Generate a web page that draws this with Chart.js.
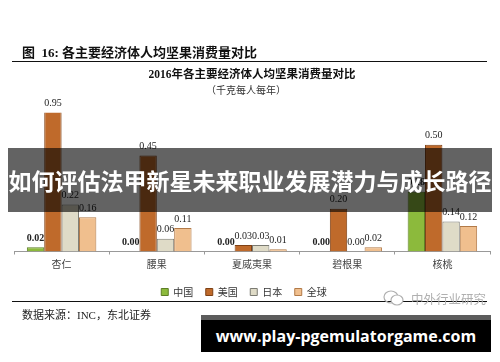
<!DOCTYPE html>
<html>
<head>
<meta charset="utf-8">
<script src="https://cdn.jsdelivr.net/npm/chart.js@4/dist/chart.umd.min.js"></script>
<style>
  body { margin: 0; width: 500px; height: 362px; position: relative; overflow: hidden; background: #fff; }
  #chart { position: absolute; left: 0; top: 0; }
  .abs { position: absolute; white-space: nowrap; }
  #figTitle { left: 22px; top: 42px; font: bold 13px "Liberation Serif", "Noto Sans CJK SC"; color: #111; }
  .rule { position: absolute; left: 12px; width: 475px; height: 0; border-top: 1.5px solid #111; }
  #source { left: 22px; top: 306px; font: 11px "Liberation Serif", "Noto Sans CJK SC"; color: #222; }
  #wechat { left: 383px; top: 289px; font: 12.5px "Noto Sans CJK SC"; color: #b0b0b0; }
  #banner { left: 8px; top: 148px; width: 484px; height: 64px; background: rgba(0,0,0,0.61);
            color: #fff; font: bold 23px "Noto Sans CJK SC"; text-align: center; line-height: 64px; }
  #site { left: 201px; top: 315px; width: 290px; height: 32px; border-top: 5px solid #5c5c5c; background: #000;
          color: #fff; font: bold 16px "Open Sans"; text-align: center; line-height: 32px; }
</style>
</head>
<body>
<canvas id="chart" width="500" height="362"></canvas>
<div class="abs" id="figTitle">图&nbsp;&nbsp;16:&nbsp;各主要经济体人均坚果消费量对比</div>
<div class="rule" style="top:61px"></div>
<div class="rule" style="top:301px"></div>
<div class="abs" id="source">数据来源：INC，东北证券</div>
<div class="abs" id="wechat"><svg width="22" height="16" style="vertical-align:-2px;margin-right:6px" viewBox="0 0 22 16"><ellipse cx="8" cy="7" rx="7" ry="6" fill="none" stroke="#b0b0b0" stroke-width="1.2"/><ellipse cx="14" cy="10" rx="6" ry="5" fill="#fff" stroke="#b0b0b0" stroke-width="1.2"/></svg>中外行业研究</div>
<div class="abs" id="banner">如何评估法甲新星未来职业发展潜力与成长路径</div>
<div class="abs" id="site">www.play-pgemulatorgame.com</div>
<script>
const categories = ["杏仁", "腰果", "夏威夷果", "碧根果", "核桃"];
const seriesNames = ["中国", "美国", "日本", "全球"];
const chinaValues = [0.02, 0.00, 0.00, 0.00, 0.28];
const usValues = [0.95, 0.45, 0.03, 0.20, 0.50];
const japanValues = [0.22, 0.06, 0.03, 0.00, 0.14];
const globalValues = [0.16, 0.11, 0.01, 0.02, 0.12];
const yMax = 0.65;

const serif = "'Liberation Serif', 'Noto Sans CJK SC'";

// value labels above each bar; bars taller than the axis get the label at the clip line
const valueLabels = {
  id: "valueLabels",
  afterDatasetsDraw(chart) {
    const ctx = chart.ctx;
    const top = chart.chartArea.top;
    ctx.save();
    ctx.textAlign = "center";
    ctx.textBaseline = "middle";
    ctx.fillStyle = "#222";
    chart.data.datasets.forEach((ds, i) => {
      ctx.font = (i === 0 ? "bold " : "") + "10px " + serif;
      chart.getDatasetMeta(i).data.forEach((bar, j) => {
        const y = Math.max(bar.y, top);
        ctx.fillText(ds.data[j].toFixed(2), bar.x, y - 9);
      });
    });
    ctx.restore();
  },
};

// nudge legend and unit line left, as in the source figure
const nudge = {
  id: "nudge",
  afterLayout(chart) {
    chart.legend.left -= 8;
    chart.legend.right -= 8;
    chart.boxes.forEach((b) => {
      if (b.options && b.options.text === "（千克每人每年）") {
        b.left -= 6;
        b.right -= 6;
      }
    });
  },
};

new Chart(document.getElementById("chart"), {
  type: "bar",
  data: {
    labels: categories,
    datasets: [
      { label: seriesNames[0], data: chinaValues, backgroundColor: "#8cba3c", borderColor: "#5d7e26" },
      { label: seriesNames[1], data: usValues, backgroundColor: "#bf6a2b", borderColor: "#7e4015" },
      { label: seriesNames[2], data: japanValues, backgroundColor: "#dfdbc7", borderColor: "#7a7a72" },
      { label: seriesNames[3], data: globalValues, backgroundColor: "#f0bf8e", borderColor: "#b27a48" },
    ],
  },
  options: {
    responsive: false,
    animation: false,
    events: [],
    datasets: {
      bar: { borderWidth: 1, categoryPercentage: 0.73, barPercentage: 1.0 },
    },
    layout: { padding: { left: 14, right: 10, top: 0, bottom: 55 } },
    scales: {
      x: {
        grid: { offset: true, drawOnChartArea: false, tickLength: 3, color: "#999" },
        border: { color: "#999" },
        ticks: { padding: 4, color: "#444", font: { size: 10, family: "'Noto Sans CJK SC'" } },
      },
      y: { display: false, min: 0, max: yMax },
    },
    plugins: {
      title: {
        display: true,
        text: "2016年各主要经济体人均坚果消费量对比",
        color: "#111",
        font: { size: 11.5, weight: "bold", family: serif },
        padding: { top: 68.1, bottom: 2 },
      },
      subtitle: {
        display: true,
        text: "（千克每人每年）",
        color: "#333",
        font: { size: 10, family: serif },
        padding: { top: 1.1, bottom: 15.7 },
      },
      legend: {
        position: "bottom",
        labels: {
          boxWidth: 7,
          boxHeight: 7,
          padding: 12.5,
          color: "#333",
          font: { size: 10, family: "'Noto Sans CJK SC'" },
        },
      },
      tooltip: { enabled: false },
    },
  },
  plugins: [valueLabels, nudge],
});
</script>
</body>
</html>
